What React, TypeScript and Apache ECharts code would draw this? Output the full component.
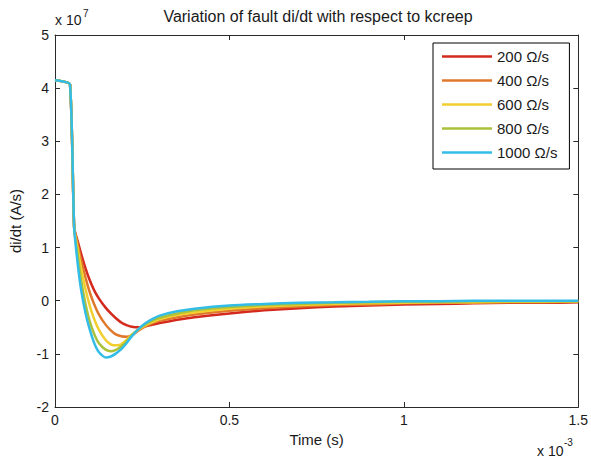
import { useEffect, useRef } from "react";
import * as echarts from "echarts";

// Time in units of 1e-3 s; di/dt in units of 1e7 A/s
const timeMs = [
  0, 0.02, 0.043, 0.055, 0.065, 0.075, 0.088, 0.1, 0.112, 0.126, 0.145, 0.16, 0.173, 0.19, 0.205, 0.22,
  0.24, 0.26, 0.28, 0.3, 0.35, 0.4, 0.5, 0.6, 0.7, 0.8, 0.9, 1.0, 1.1, 1.2, 1.3, 1.4, 1.5,
];

const seriesNames = ["200 Ω/s", "400 Ω/s", "600 Ω/s", "800 Ω/s", "1000 Ω/s"];
const seriesColors = ["#d42a1e", "#e0782c", "#f2ce2e", "#a9c23a", "#33bce6"];

const di200 = [
  4.15, 4.13, 4.07, 1.37, 1.12, 0.88, 0.6, 0.38, 0.2, 0.04, -0.13, -0.24, -0.32, -0.41, -0.46, -0.49,
  -0.5, -0.48, -0.45, -0.42, -0.36, -0.31, -0.24, -0.18, -0.14, -0.11, -0.09, -0.07, -0.06, -0.05, -0.04, -0.04, -0.03,
];
const di400 = [
  4.15, 4.13, 4.07, 1.37, 1.06, 0.76, 0.42, 0.15, -0.06, -0.26, -0.45, -0.56, -0.63, -0.67, -0.68, -0.65,
  -0.56, -0.48, -0.42, -0.38, -0.31, -0.26, -0.19, -0.14, -0.11, -0.08, -0.07, -0.05, -0.04, -0.04, -0.03, -0.03, -0.02,
];
const di600 = [
  4.15, 4.13, 4.07, 1.37, 0.98, 0.6, 0.2, -0.1, -0.34, -0.55, -0.74, -0.82, -0.84, -0.82, -0.74, -0.64,
  -0.54, -0.46, -0.4, -0.35, -0.27, -0.22, -0.15, -0.11, -0.08, -0.06, -0.05, -0.04, -0.03, -0.03, -0.02, -0.02, -0.01,
];
const di800 = [
  4.15, 4.13, 4.07, 1.37, 0.85, 0.38, -0.08, -0.4, -0.62, -0.8, -0.92, -0.95, -0.93, -0.86, -0.77, -0.65,
  -0.53, -0.44, -0.37, -0.32, -0.24, -0.18, -0.12, -0.08, -0.06, -0.04, -0.03, -0.02, -0.02, -0.01, -0.01, -0.01, -0.01,
];
const di1000 = [
  4.15, 4.13, 4.07, 1.37, 0.7, 0.2, -0.25, -0.55, -0.79, -0.97, -1.07, -1.05, -1.0, -0.91, -0.8, -0.67,
  -0.53, -0.42, -0.34, -0.28, -0.2, -0.15, -0.09, -0.06, -0.04, -0.03, -0.02, -0.01, -0.01, 0, 0, 0, 0,
];
const seriesValues = [di200, di400, di600, di800, di1000];

const titleText = "Variation of fault di/dt with respect to kcreep";
const xAxisName = "Time (s)";
const yAxisName = "di/dt (A/s)";
const xRange = [0, 1.5, 0.5];
const yRange = [-2, 5, 1];

const FONT = '"Liberation Sans", Arial, sans-serif';
const TXT = "#1a1a1a";
const AX = "#2a2a2a";

export default function App() {
  const ref = useRef<HTMLDivElement>(null);
  useEffect(() => {
    if (!ref.current) return;
    const chart = echarts.init(ref.current, undefined, { renderer: "svg" });
    const axisCommon = {
      axisLine: { show: true, onZero: false, lineStyle: { color: AX, width: 1 } },
      axisTick: { show: true, inside: true, length: 5, lineStyle: { color: AX } },
      splitLine: { show: false },
    };
    chart.setOption({
      animation: false,
      backgroundColor: "#ffffff",
      grid: { left: 54, right: 9, top: 35, bottom: 52, containLabel: false },
      legend: {
        orient: "vertical",
        left: 433,
        top: 43,
        itemWidth: 50,
        itemHeight: 15,
        itemGap: 9,
        itemTextGap: 4,
        padding: [6, 12, 9, 9],
        borderColor: "#000",
        borderWidth: 1,
        backgroundColor: "#fff",
        icon: "path://M0,0 L50,0 L50,2.5 L0,2.5 Z",
        symbolKeepAspect: true,
        textStyle: { fontFamily: FONT, fontSize: 15, color: TXT, width: 70 },
        data: seriesNames,
      },
      xAxis: [
        {
          type: "value",
          min: xRange[0],
          max: xRange[1],
          interval: xRange[2],
          position: "bottom",
          name: xAxisName,
          nameLocation: "middle",
          nameGap: 22,
          nameTextStyle: { fontFamily: FONT, fontSize: 15, color: TXT },
          axisLabel: { fontFamily: FONT, fontSize: 14, color: TXT, margin: 6 },
          ...axisCommon,
        },
        {
          type: "value",
          min: xRange[0],
          max: xRange[1],
          interval: xRange[2],
          position: "top",
          axisLabel: { show: false },
          ...axisCommon,
        },
      ],
      yAxis: [
        {
          type: "value",
          min: yRange[0],
          max: yRange[1],
          interval: yRange[2],
          position: "left",
          name: yAxisName,
          nameLocation: "middle",
          nameGap: 32,
          nameTextStyle: { fontFamily: FONT, fontSize: 15, color: TXT },
          axisLabel: { fontFamily: FONT, fontSize: 14, color: TXT, margin: 6 },
          ...axisCommon,
        },
        {
          type: "value",
          min: yRange[0],
          max: yRange[1],
          interval: yRange[2],
          position: "right",
          axisLabel: { show: false },
          ...axisCommon,
        },
      ],
      series: seriesNames.map((name, i) => ({
        name,
        type: "line",
        xAxisIndex: 0,
        yAxisIndex: 0,
        symbol: "none",
        smooth: 0.2,
        color: seriesColors[i],
        lineStyle: { width: 2.5, color: seriesColors[i] },
        data: timeMs.map((t, k) => [t, seriesValues[i][k]]),
      })),
      graphic: [
        {
          type: "text",
          x: 318,
          y: 16,
          style: { text: titleText, fontFamily: FONT, fontSize: 16, fill: TXT, align: "center", verticalAlign: "middle" },
        },
        {
          type: "text",
          x: 55,
          y: 20,
          style: { text: "x 10", fontFamily: FONT, fontSize: 14, fill: TXT, align: "left", verticalAlign: "middle" },
        },
        {
          type: "text",
          x: 83,
          y: 13,
          style: { text: "7", fontFamily: FONT, fontSize: 10, fill: TXT, align: "left", verticalAlign: "middle" },
        },
        {
          type: "text",
          x: 537,
          y: 451,
          style: { text: "x 10", fontFamily: FONT, fontSize: 14, fill: TXT, align: "left", verticalAlign: "middle" },
        },
        {
          type: "text",
          x: 564,
          y: 442,
          style: { text: "-3", fontFamily: FONT, fontSize: 10, fill: TXT, align: "left", verticalAlign: "middle" },
        },
      ],
    });
    return () => chart.dispose();
  }, []);
  return (
    <div
      ref={ref}
      style={{ position: "fixed", left: 0, top: 0, width: 591, height: 459, background: "#fff" }}
    />
  );
}
